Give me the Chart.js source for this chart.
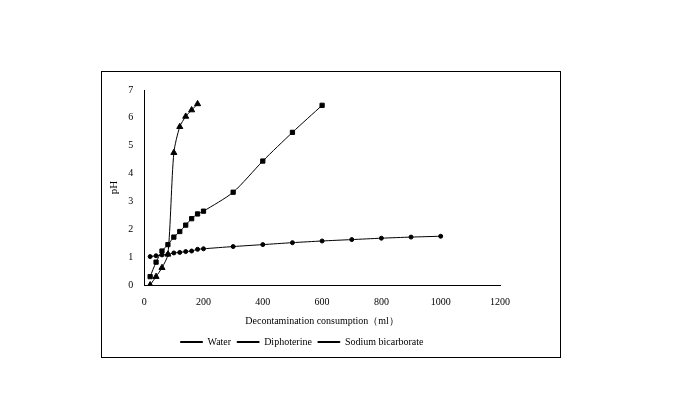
<!DOCTYPE html>
<html><head>
<script src="https://cdn.jsdelivr.net/npm/chart.js"></script>
<style>
body { margin:0; background:#fff; }
#box { position:absolute; left:101px; top:71px; width:458px; height:285px; border:1px solid #000; }
</style>
</head><body>
<div id="box"><canvas id="c" width="458" height="285"></canvas></div>
<script>
const waterX = [20,40,60,80,100,120,140,160,180,200,300,400,500,600,700,800,900,1000];
const waterY = [1.02,1.05,1.08,1.1,1.15,1.17,1.2,1.22,1.28,1.3,1.38,1.45,1.52,1.58,1.63,1.68,1.72,1.75];
const diphX = [20,40,60,80,100,120,140,160,180,200,300,400,500,600];
const diphY = [0.3,0.82,1.22,1.45,1.72,1.92,2.15,2.38,2.55,2.65,3.33,4.45,5.48,6.45];
const sodaX = [20,40,60,80,100,120,140,160,180];
const sodaY = [0,0.3,0.62,1.1,4.75,5.68,6.05,6.28,6.5];

const pts = (xs, ys) => xs.map((x, i) => ({ x: x, y: ys[i] }));
Chart.defaults.font.family = '"Liberation Serif", serif';
Chart.defaults.color = '#000';

const ds = (label, data, style, r) => ({
    label: label, data: data, pointStyle: style, pointRadius: r,
    borderColor: '#000', backgroundColor: '#000', borderWidth: 1, tension: 0.25
});

new Chart(document.getElementById('c'), {
    type: 'line',
    data: {
        datasets: [
            ds('Water', pts(waterX, waterY), 'circle', 2),
            ds('Diphoterine', pts(diphX, diphY), 'rect', 3),
            ds('Sodium bicarborate', pts(sodaX, sodaY), 'triangle', 3.5)
        ]
    },
    options: {
        responsive: false,
        animation: false,
        layout: { padding: { left: 2, right: 60, top: 18, bottom: 0 } },
        plugins: {
            legend: {
                position: 'bottom',
                labels: { boxWidth: 22, boxHeight: 1, font: { size: 10 }, padding: 6 }
            },
            tooltip: { enabled: false }
        },
        scales: {
            x: {
                type: 'linear', min: 0, max: 1200,
                ticks: { stepSize: 200, font: { size: 10 }, callback: v => String(v) },
                grid: { display: false },
                border: { color: '#000' },
                title: { display: true, text: 'Decontamination consumption（ml）', font: { size: 10 } }
            },
            y: {
                min: 0, max: 7,
                ticks: { stepSize: 1, font: { size: 10 } },
                grid: { display: false },
                border: { color: '#000' },
                title: { display: true, text: 'pH', font: { size: 11 } }
            }
        }
    }
});
</script>
</body></html>
